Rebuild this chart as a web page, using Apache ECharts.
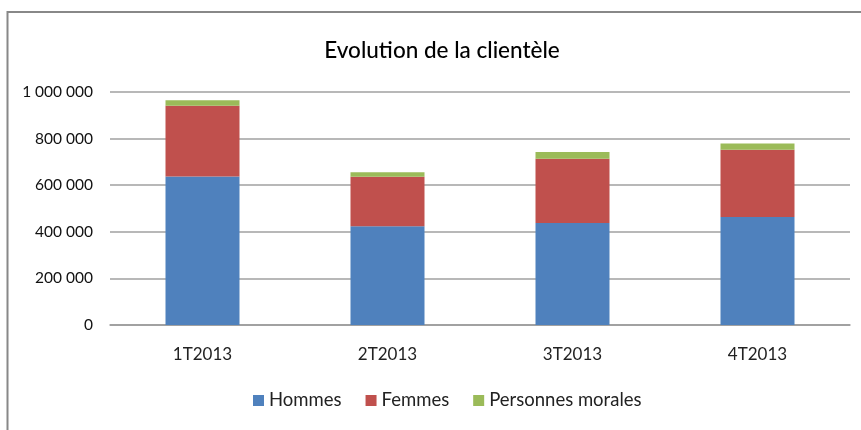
<!DOCTYPE html>
<html>
<head>
<meta charset="utf-8">
<script src="https://cdn.jsdelivr.net/npm/echarts@6/dist/echarts.min.js"></script>
<style>
  html, body { margin: 0; padding: 0; background: #fff; }
  #box1 { width: 861px; height: 430px; }
</style>
</head>
<body>
<div id="box1"></div>
<script>
// ▼数据
const aQuarters = ['1T2013', '2T2013', '3T2013', '4T2013'];
const aHommes = [637000, 424000, 438000, 463000];
const aFemmes = [304000, 212000, 275000, 289000];
const aMorales = [24000, 20000, 29000, 27000];
const aSeriesNames = ['Hommes', 'Femmes', 'Personnes morales'];
const aColors = ['#4f81bd', '#c0504d', '#9bbb59'];

const sFont = 'Lato, "Open Sans", sans-serif';

function fmtNum(v){
    return String(v).replace(/\B(?=(\d{3})+(?!\d))/g, ' ');
}

const oCommonPart = {
    type: 'bar',
    stack: 'total',
    barWidth: '40%',
    emphasis: { disabled: true },
};

const myChart = echarts.init(document.getElementById('box1'), null, { renderer: 'canvas' });
const option = {
    animation: false,
    backgroundColor: '#fff',
    title: {
        text: 'Evolution de la clientèle',
        left: 437,
        top: 34,
        textAlign: 'center',
        textStyle: { fontFamily: sFont, fontSize: 22.5, fontWeight: 500, color: '#000' },
    },
    graphic: [{
        type: 'rect',
        shape: { x: 7.5, y: 12, width: 900, height: 500 },
        style: { fill: 'none', stroke: '#888', lineWidth: 2 },
        silent: true,
    }],
    legend: {
        data: aSeriesNames,
        bottom: 15,
        left: 248,
        itemWidth: 11,
        itemHeight: 11,
        itemGap: 24,
        icon: 'rect',
        textStyle: { fontFamily: sFont, fontSize: 18.5, color: '#222' },
    },
    grid: { left: 110, right: 11, top: 92, bottom: 105 },
    xAxis: {
        type: 'category',
        data: aQuarters,
        axisLine: { show: true, lineStyle: { color: '#999', width: 1.5 } },
        axisTick: { show: false },
        axisLabel: { fontFamily: sFont, fontSize: 17, color: '#222', margin: 21 },
    },
    yAxis: {
        type: 'value',
        min: 0,
        max: 1000000,
        interval: 200000,
        axisLine: { show: false },
        axisTick: { show: false },
        splitLine: { lineStyle: { color: '#a0a0a0', width: 1.5 } },
        axisLabel: {
            fontFamily: sFont, fontSize: 15.5, color: '#111', margin: 17,
            formatter: fmtNum,
        },
    },
    series: [
        { ...oCommonPart, name: aSeriesNames[0], data: aHommes, itemStyle: { color: aColors[0] } },
        { ...oCommonPart, name: aSeriesNames[1], data: aFemmes, itemStyle: { color: aColors[1] } },
        { ...oCommonPart, name: aSeriesNames[2], data: aMorales, itemStyle: { color: aColors[2] } },
    ],
};
myChart.setOption(option);
</script>
</body>
</html>
